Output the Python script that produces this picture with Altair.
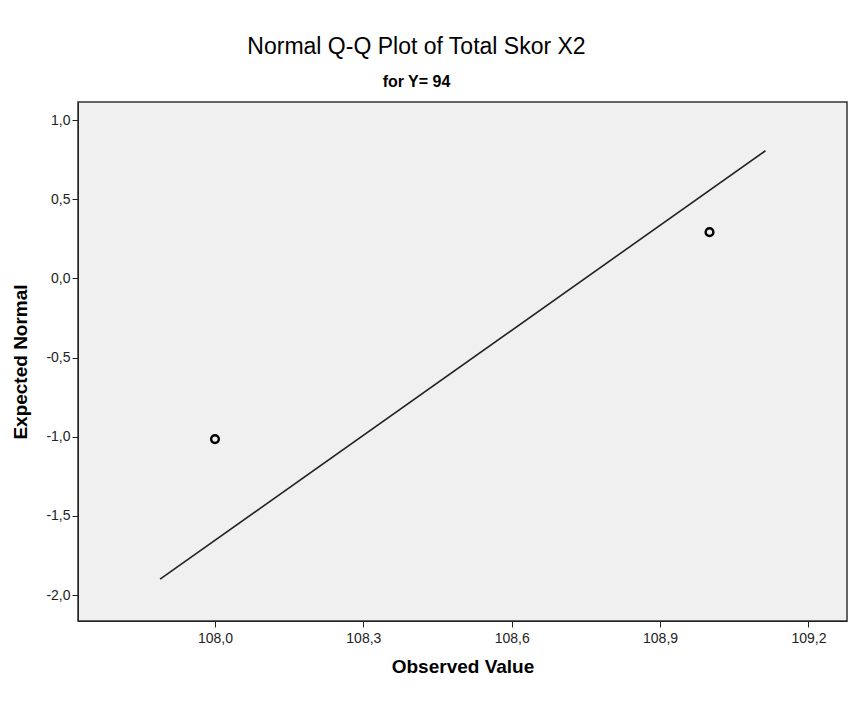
import altair as alt
import pandas as pd

# Observed points
obs_x = [108.0, 109.0]
obs_y = [-1.015, 0.292]

# Reference line endpoints
line_x = [107.889, 109.113]
line_y = [-1.90, 0.806]

x_ticks = [108.0, 108.3, 108.6, 108.9, 109.2]
y_ticks = [-2.0, -1.5, -1.0, -0.5, 0.0, 0.5, 1.0]

pts = pd.DataFrame({"x": obs_x, "y": obs_y})
ln = pd.DataFrame({"x": line_x, "y": line_y})

FONT = "Liberation Sans, Arial, sans-serif"
LABEL_EXPR = "(datum.value < 0 ? '-' : '') + replace(format(abs(datum.value), '.1f'), '.', ',')"

xscale = alt.Scale(domain=[107.723, 109.278], nice=False, zero=False)
yscale = alt.Scale(domain=[-2.164, 1.114], nice=False, zero=False)

xaxis = alt.Axis(title="Observed Value", values=x_ticks,
                 labelExpr=LABEL_EXPR,
                 grid=False, tickSize=6, tickColor="#222", domainColor="#222",
                 labelFontSize=14, labelColor="#222", labelFont=FONT, labelPadding=4,
                 titleFont=FONT, titleFontSize=19, titleFontWeight="bold",
                 titleColor="#000", titlePadding=12)
yaxis = alt.Axis(title="Expected Normal", values=y_ticks,
                 labelExpr=LABEL_EXPR,
                 grid=False, tickSize=6, tickColor="#222", domainColor="#222",
                 labelFontSize=14, labelColor="#222", labelFont=FONT, labelPadding=2,
                 titleFont=FONT, titleFontSize=19, titleFontWeight="bold",
                 titleColor="#000", titlePadding=15)

line = alt.Chart(ln).mark_line(color="#222", strokeWidth=1.6).encode(
    x=alt.X("x:Q", scale=xscale, axis=xaxis),
    y=alt.Y("y:Q", scale=yscale, axis=yaxis),
)
points = alt.Chart(pts).mark_point(shape="circle", filled=False, color="#000",
                                   strokeWidth=2.4, size=60, opacity=1).encode(
    x=alt.X("x:Q", scale=xscale),
    y=alt.Y("y:Q", scale=yscale),
)

chart = alt.layer(line, points).properties(
    width=769, height=519,
    title=alt.TitleParams(
        text="Normal Q-Q Plot of Total Skor X2",
        subtitle="for Y= 94",
        font=FONT, fontSize=23, fontWeight="normal", color="#000",
        subtitleFont=FONT, subtitleFontSize=16, subtitleFontWeight="bold",
        subtitleColor="#000", subtitlePadding=15, offset=12,
        anchor="middle", dx=-46,
    ),
    autosize=alt.AutoSizeParams(type="none"),
    padding={"left": 78, "top": 102, "right": 12, "bottom": 81},
    background="white",
).configure_view(
    fill="#f0f0f0", stroke="#333", strokeWidth=1.5
)

chart.save("out.html", embed_options={"renderer": "svg", "actions": False})
